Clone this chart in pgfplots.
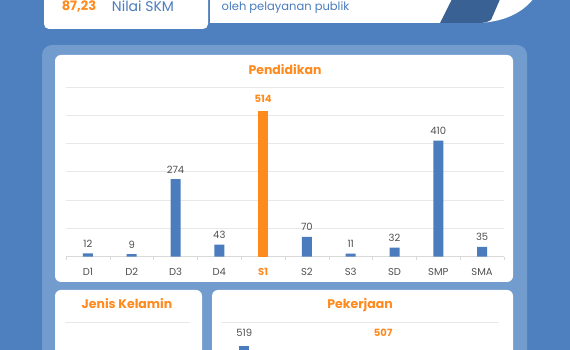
\documentclass[border=0pt]{standalone}
\usepackage{pgfplots}
\pgfplotsset{compat=1.18}
\usepackage{fontspec}
\setmainfont{Poppins}
\definecolor{bgblue}{HTML}{4E7FBE}
\definecolor{panelblue}{HTML}{729BCE}
\definecolor{barblue}{HTML}{4B7DBE}
\definecolor{darkshape}{HTML}{3A6194}
\definecolor{orng}{HTML}{FF8A1D}
\definecolor{txtblue}{HTML}{4A7CBF}
\definecolor{txtgray}{HTML}{505050}
\definecolor{gridgray}{HTML}{E8E8E8}
\begin{document}
\begin{tikzpicture}[x=1pt,y=1pt]
\useasboundingbox (0,0) rectangle (570,350);
\clip (0,0) rectangle (570,350);
\fill[bgblue] (0,0) rectangle (570,350);
% top boxes
\fill[white, rounded corners=5] (44,321) rectangle (208,365);
\fill[white] (210,365) -- (210,327) -- (478,327) .. controls (505,328) and (525,338) .. (536,355) -- (536,365) -- cycle;
\fill[darkshape] (440,327) -- (453,353) -- (501,353) -- (491,330) .. controls (485,327) .. (470,327) -- cycle;
\node[font=\fontsize{13}{13}\selectfont\bfseries, text=orng] at (79,344) {87,23};
\node[font=\fontsize{14}{14}\selectfont, text=txtblue] at (143,344) {Nilai SKM};
\node[font=\fontsize{11.5}{11.5}\selectfont, text=txtblue] at (285.5,342) {oleh pelayanan publik};
% panels
\fill[panelblue, rounded corners=10] (42,305) rectangle (527,-20);
\fill[white, rounded corners=6] (55,295) rectangle (513,68);
\fill[white, rounded corners=6] (55,60) rectangle (202,-20);
\fill[white, rounded corners=6] (212,60) rectangle (513,-20);
\node[font=\fontsize{12.5}{12.5}\selectfont\bfseries, text=orng] at (285,280) {Pendidikan};
\node[font=\fontsize{12.5}{12.5}\selectfont\bfseries, text=orng] at (127,46) {Jenis Kelamin};
\node[font=\fontsize{12.5}{12.5}\selectfont\bfseries, text=orng] at (360,45) {Pekerjaan};
\draw[gridgray, line width=1pt] (65,27) -- (190,27);
% main chart
\begin{axis}[
  at={(66pt,93.3pt)}, anchor=south west,
  scale only axis, width=438pt, height=169.7pt,
  xmin=-0.5, xmax=9.5, ymin=0, ymax=600,
  ytick={0,100,...,600}, yticklabels={},
  ymajorgrids, grid style={gridgray, line width=0.8pt},
  axis lines*=left,
  y axis line style={draw=none},
  x axis line style={draw=gray!30, line width=0.8pt},
  ytick style={draw=none},
  xtick={0,...,9},
  xticklabels={D1,D2,D3,D4,{\textcolor{orng}{\bfseries S1}},S2,S3,SD,SMP,SMA},
  major x tick style={draw=none},
  minor xtick={-0.5,0.5,...,9.5},
  minor x tick style={draw=gray!30, line width=0.6pt},
  minor tick length=3pt,
  tick align=outside,
  xticklabel style={font=\fontsize{10}{10}\selectfont, text=txtgray, yshift=-4pt},
  /pgf/number format/assume math mode=true,
  ybar, bar width=10pt,
  nodes near coords,
  nodes near coords style={font=\fontsize{10}{10}\selectfont, text=txtgray, yshift=2.5pt},
  clip=false,
]
\addplot[fill=barblue, draw=none, bar shift=0pt] coordinates {(0,12) (1,9) (2,274) (3,43) (5,70) (6,11) (7,32) (8,410) (9,35)};
\addplot[fill=orng, draw=none, bar shift=0pt, nodes near coords style={font=\fontsize{10}{10}\selectfont\bfseries, text=orng, yshift=2.5pt}] coordinates {(4,514)};
\end{axis}
% Pekerjaan chart (partially visible)
\begin{axis}[
  at={(221pt,-149pt)}, anchor=south west,
  scale only axis, width=278pt, height=176.6pt,
  xmin=-0.5, xmax=5.5, ymin=0, ymax=600,
  ytick={0,100,...,600}, yticklabels={},
  ymajorgrids, grid style={gridgray, line width=0.8pt},
  axis line style={draw=none},
  tick style={draw=none},
  xtick=\empty,
  /pgf/number format/assume math mode=true,
  ybar, bar width=10pt,
  nodes near coords,
  nodes near coords style={font=\fontsize{10}{10}\selectfont, text=txtgray, yshift=6pt},
]
\addplot[fill=barblue, draw=none, bar shift=0pt] coordinates {(0,519)};
\addplot[fill=orng, draw=none, bar shift=0pt, nodes near coords style={font=\fontsize{10}{10}\selectfont\bfseries, text=orng, yshift=4pt}] coordinates {(3,507)};
\end{axis}
\end{tikzpicture}
\end{document}
